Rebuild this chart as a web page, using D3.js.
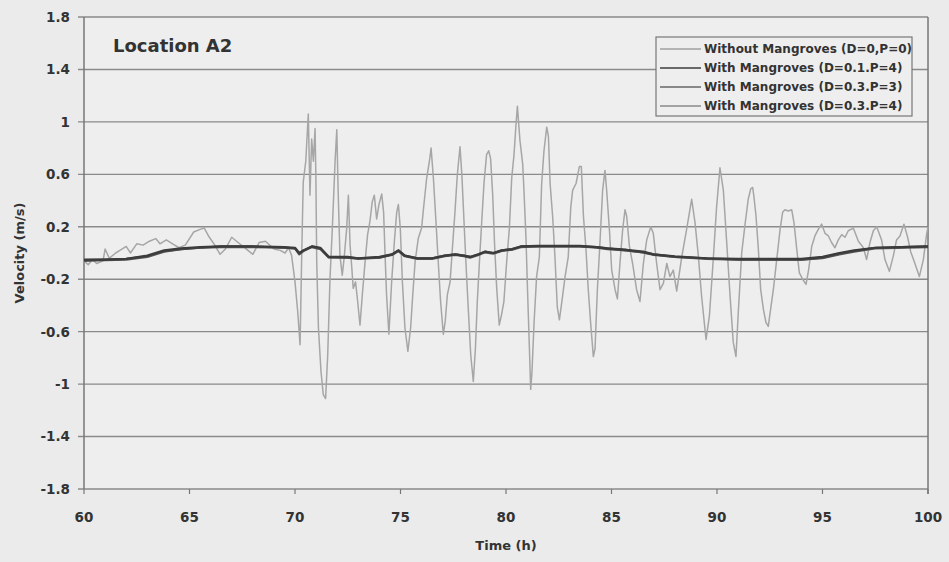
<!DOCTYPE html>
<html>
<head>
<meta charset="utf-8">
<script src="https://cdn.jsdelivr.net/npm/d3@7/dist/d3.min.js"></script>
<style>
  html, body { margin: 0; padding: 0; background: #ebebeb; }
  svg { display: block; }
  .tick-label, .axis-title { font-family: "DejaVu Sans", sans-serif; font-weight: bold; fill: #333; }
  .legend-text { font-family: "DejaVu Sans", sans-serif; font-weight: bold; font-size: 12px; fill: #333; }
</style>
</head>
<body>
<div id="chart"></div>
<script>
// --- data ---
const xTicks = [60, 65, 70, 75, 80, 85, 90, 95, 100];
const yTicks = [1.8, 1.4, 1, 0.6, 0.2, -0.2, -0.6, -1, -1.4, -1.8];

const seriesNames = [
  'Without Mangroves (D=0,P=0)',
  'With Mangroves (D=0.1.P=4)',
  'With Mangroves (D=0.3.P=3)',
  'With Mangroves (D=0.3.P=4)'
];

// without mangroves: time (h) and velocity (m/s)
const timeA = [
  60.0, 60.2, 60.4, 60.6, 60.9, 61.0, 61.2, 61.5, 61.7, 62.0,
  62.2, 62.5, 62.8, 63.1, 63.4, 63.6, 63.9, 64.2, 64.5, 64.8,
  65.2, 65.5, 65.7, 65.9, 66.2, 66.45, 66.7, 67.0, 67.3, 67.7,
  68.0, 68.3, 68.6, 69.0, 69.3, 69.53, 69.7, 69.84, 70.0, 70.13,
  70.24, 70.32, 70.39, 70.51, 70.63, 70.71, 70.79, 70.87, 70.95, 70.99,
  71.03, 71.11, 71.23, 71.34, 71.45, 71.55, 71.66, 71.77, 71.9, 71.98,
  72.05, 72.13, 72.24, 72.34, 72.45, 72.53, 72.61, 72.69, 72.76, 72.87,
  72.97, 73.08, 73.19, 73.32, 73.44, 73.55, 73.66, 73.76, 73.87, 73.98,
  74.11, 74.2, 74.27, 74.34, 74.45, 74.58, 74.71, 74.82, 74.9, 74.99,
  75.09, 75.21, 75.35, 75.48, 75.58, 75.69, 75.84, 76.0, 76.11, 76.24,
  76.37, 76.45, 76.56, 76.68, 76.79, 76.9, 77.03, 77.12, 77.22, 77.35,
  77.47, 77.58, 77.69, 77.82, 77.91, 78.01, 78.1, 78.21, 78.33, 78.45,
  78.55, 78.64, 78.74, 78.85, 78.96, 79.08, 79.18, 79.27, 79.37, 79.46,
  79.56, 79.68, 79.79, 79.9, 80.03, 80.16, 80.27, 80.38, 80.47, 80.54,
  80.66, 80.79, 80.85, 80.95, 81.01, 81.11, 81.17, 81.23, 81.33, 81.45,
  81.58, 81.69, 81.8, 81.93, 82.01, 82.09, 82.21, 82.32, 82.43, 82.53,
  82.64, 82.8, 82.95, 83.07, 83.16, 83.32, 83.48, 83.57, 83.67, 83.79,
  83.9, 84.01, 84.14, 84.22, 84.33, 84.46, 84.58, 84.69, 84.77, 84.9,
  85.01, 85.17, 85.28, 85.4, 85.53, 85.64, 85.72, 85.85, 86.0, 86.19,
  86.35, 86.51, 86.67, 86.86, 86.98, 87.14, 87.3, 87.46, 87.62, 87.77,
  87.93, 88.09, 88.33, 88.56, 88.8, 88.96, 89.12, 89.27, 89.48, 89.64,
  89.83, 89.98, 90.14, 90.3, 90.46, 90.62, 90.77, 90.9, 91.01, 91.17,
  91.33, 91.48, 91.6, 91.69, 91.75, 91.85, 91.96, 92.07, 92.2, 92.32,
  92.43, 92.54, 92.67, 92.83, 92.99, 93.11, 93.22, 93.38, 93.54, 93.65,
  93.78, 93.9, 94.06, 94.22, 94.34, 94.49, 94.64, 94.8, 94.96, 95.12,
  95.28, 95.43, 95.59, 95.75, 95.91, 96.07, 96.22, 96.46, 96.7, 96.94,
  97.09, 97.25, 97.41, 97.57, 97.8, 97.96, 98.17, 98.36, 98.51, 98.67,
  98.86, 99.02, 99.18, 99.38, 99.59, 99.78, 99.94, 100.0
];
const velA = [
  -0.06, -0.09, -0.05, -0.08, -0.06, 0.03, -0.04, 0.0, 0.02, 0.05,
  0.0, 0.07, 0.06, 0.09, 0.11, 0.07, 0.10, 0.07, 0.04, 0.06,
  0.16, 0.18, 0.19, 0.13, 0.06, -0.01, 0.03, 0.12, 0.08, 0.03,
  -0.01, 0.08, 0.09, 0.03, 0.02, 0.0, 0.04, -0.02, -0.22, -0.45,
  -0.70, 0.0, 0.54, 0.70, 1.06, 0.44, 0.87, 0.70, 0.95, 0.57,
  -0.07, -0.57, -0.90, -1.08, -1.11, -0.78, -0.19, 0.19, 0.70, 0.94,
  0.44, -0.02, -0.17, -0.02, 0.19, 0.44, 0.06, -0.11, -0.27, -0.22,
  -0.37, -0.55, -0.32, -0.07, 0.14, 0.24, 0.39, 0.44, 0.26, 0.37,
  0.45, 0.31, -0.02, -0.32, -0.62, -0.22, 0.09, 0.31, 0.37, 0.19,
  -0.22, -0.57, -0.75, -0.57, -0.32, -0.07, 0.11, 0.19, 0.37, 0.57,
  0.70, 0.80, 0.57, 0.24, -0.07, -0.37, -0.62, -0.52, -0.32, -0.22,
  0.06, 0.31, 0.59, 0.81, 0.59, 0.24, -0.07, -0.42, -0.78, -0.98,
  -0.73, -0.37, -0.07, 0.24, 0.54, 0.75, 0.78, 0.72, 0.44, 0.06,
  -0.27, -0.55, -0.47, -0.37, -0.07, 0.19, 0.57, 0.75, 0.97, 1.12,
  0.86, 0.68, 0.48, 0.10, -0.23, -0.73, -1.04, -0.91, -0.53, -0.18,
  -0.03, 0.53, 0.78, 0.96, 0.89, 0.53, 0.28, -0.03, -0.41, -0.51,
  -0.38, -0.18, -0.03, 0.35, 0.48, 0.53, 0.66, 0.66, 0.28, 0.03,
  -0.28, -0.53, -0.79, -0.73, -0.28, 0.10, 0.48, 0.63, 0.48, 0.18,
  -0.13, -0.28, -0.35, -0.08, 0.18, 0.33, 0.28, 0.05, -0.08, -0.28,
  -0.37, -0.08, 0.10, 0.20, 0.15, -0.08, -0.28, -0.23, -0.08, -0.18,
  -0.13, -0.29, -0.03, 0.18, 0.41, 0.23, -0.03, -0.33, -0.66, -0.48,
  -0.03, 0.35, 0.65, 0.48, 0.08, -0.33, -0.68, -0.79, -0.45, 0.0,
  0.22, 0.41, 0.49, 0.50, 0.43, 0.28, 0.03, -0.28, -0.43, -0.53,
  -0.56, -0.43, -0.28, -0.05, 0.18, 0.31, 0.33, 0.32, 0.33, 0.23,
  0.03, -0.15, -0.20, -0.24, -0.13, 0.05, 0.13, 0.18, 0.22, 0.15,
  0.13, 0.08, 0.04, 0.10, 0.14, 0.12, 0.17, 0.19, 0.09, 0.04,
  -0.05, 0.08, 0.17, 0.20, 0.10, -0.05, -0.14, -0.02, 0.10, 0.13,
  0.22, 0.13, 0.01, -0.08, -0.18, -0.05, 0.15, 0.20
];

// with mangroves: shared time axis, three runs
const timeM = [
  60, 61, 62, 63, 63.8, 64.6, 65.5, 66.5, 68, 69.5,
  70.0, 70.2, 70.4, 70.8, 71.2, 71.6, 72.5, 73.0, 74.0, 74.6,
  74.9, 75.2, 75.8, 76.5, 77.1, 77.6, 78.0, 78.3, 78.7, 79.0,
  79.4, 79.8, 80.3, 80.7, 81.5, 83.5, 84.3, 84.8, 85.7, 86.5,
  87.0, 88.0, 89.5, 91.0, 94.0, 95.0, 95.8, 96.5, 97.5, 100
];
const velB = [
  -0.05, -0.05, -0.045, -0.02, 0.02, 0.035, 0.045, 0.05, 0.05, 0.045,
  0.04, 0.0, 0.02, 0.05, 0.04, -0.03, -0.03, -0.04, -0.03, -0.01,
  0.02, -0.02, -0.04, -0.04, -0.02, -0.01, -0.02, -0.03, -0.01, 0.01,
  0.0, 0.02, 0.03, 0.05, 0.055, 0.055, 0.045, 0.035, 0.025, 0.01,
  -0.01, -0.025, -0.04, -0.045, -0.045, -0.03, 0.0, 0.02, 0.04, 0.05
];
const velC = [
  -0.06, -0.055, -0.05, -0.03, 0.01, 0.03, 0.04, 0.045, 0.045, 0.04,
  0.035, -0.01, 0.015, 0.045, 0.03, -0.035, -0.035, -0.045, -0.035, -0.015,
  0.015, -0.025, -0.045, -0.045, -0.025, -0.015, -0.025, -0.035, -0.015, 0.005,
  -0.005, 0.015, 0.025, 0.045, 0.05, 0.05, 0.04, 0.03, 0.02, 0.005,
  -0.015, -0.03, -0.045, -0.05, -0.05, -0.04, -0.01, 0.01, 0.035, 0.045
];
const velD = [
  -0.055, -0.05, -0.045, -0.025, 0.015, 0.03, 0.04, 0.05, 0.05, 0.04,
  0.035, -0.005, 0.02, 0.05, 0.035, -0.03, -0.035, -0.04, -0.035, -0.01,
  0.02, -0.02, -0.04, -0.04, -0.02, -0.01, -0.02, -0.03, -0.01, 0.01,
  0.0, 0.02, 0.03, 0.05, 0.05, 0.05, 0.045, 0.035, 0.02, 0.005,
  -0.01, -0.03, -0.04, -0.05, -0.05, -0.035, -0.005, 0.015, 0.04, 0.05
];

// --- chart ---
const width = 949, height = 562;
const margin = { top: 17, right: 21, bottom: 73, left: 84 };
const w = width - margin.left - margin.right;
const h = height - margin.top - margin.bottom;

const svg = d3.select('#chart').append('svg')
  .attr('width', width).attr('height', height);

svg.append('rect').attr('width', width).attr('height', height).attr('fill', '#ebebeb');

const g = svg.append('g').attr('transform', `translate(${margin.left},${margin.top})`);

const x = d3.scaleLinear().domain([60, 100]).range([0, w]);
const y = d3.scaleLinear().domain([-1.8, 1.8]).range([h, 0]);

g.append('rect').attr('width', w).attr('height', h).attr('fill', '#eeeeee');

// horizontal gridlines (the outer ones double as frame)
g.selectAll('line.grid')
  .data(yTicks)
  .join('line')
  .attr('class', 'grid')
  .attr('x1', -6).attr('x2', w)
  .attr('y1', d => y(d)).attr('y2', d => y(d))
  .attr('stroke', '#8a8a8a')
  .attr('stroke-width', 1.4);

// y axis labels
g.selectAll('text.ylab')
  .data(yTicks)
  .join('text')
  .attr('class', 'tick-label ylab')
  .attr('x', -14)
  .attr('y', d => y(d))
  .attr('dy', '0.36em')
  .attr('text-anchor', 'end')
  .attr('font-size', 13.5)
  .text(d => String(d));

// x axis ticks and labels
g.selectAll('line.xtick')
  .data(xTicks)
  .join('line')
  .attr('class', 'xtick')
  .attr('x1', d => x(d)).attr('x2', d => x(d))
  .attr('y1', h).attr('y2', h + 5)
  .attr('stroke', '#777').attr('stroke-width', 1.2);

g.selectAll('text.xlab')
  .data(xTicks)
  .join('text')
  .attr('class', 'tick-label xlab')
  .attr('x', d => x(d))
  .attr('y', h + 33)
  .attr('text-anchor', 'middle')
  .attr('font-size', 13.5)
  .text(d => d);

// plot frame sides
g.append('line').attr('x1', 0).attr('x2', 0).attr('y1', 0).attr('y2', h)
  .attr('stroke', '#777').attr('stroke-width', 1.5);
g.append('line').attr('x1', w).attr('x2', w).attr('y1', 0).attr('y2', h + 5)
  .attr('stroke', '#777').attr('stroke-width', 1.5);

// axis titles
svg.append('text')
  .attr('class', 'axis-title')
  .attr('x', margin.left + w / 2)
  .attr('y', 550)
  .attr('text-anchor', 'middle')
  .attr('font-size', 13)
  .text('Time (h)');

svg.append('text')
  .attr('class', 'axis-title')
  .attr('transform', `translate(24,${margin.top + h / 2}) rotate(-90)`)
  .attr('text-anchor', 'middle')
  .attr('font-size', 13)
  .text('Velocity (m/s)');

// series
const line = d3.line().x(d => x(d[0])).y(d => y(d[1]));
const series = [
  { name: seriesNames[0], pts: d3.zip(timeA, velA), color: '#a6a6a6', width: 1.5 },
  { name: seriesNames[1], pts: d3.zip(timeM, velC), color: '#5a5a5a', width: 2.2 },
  { name: seriesNames[2], pts: d3.zip(timeM, velD), color: '#4a4a4a', width: 2.2 },
  { name: seriesNames[3], pts: d3.zip(timeM, velB), color: '#3c3c3c', width: 2.2 }
];

series.forEach(s => {
  g.append('path')
    .datum(s.pts)
    .attr('fill', 'none')
    .attr('stroke', s.color)
    .attr('stroke-width', s.width)
    .attr('stroke-linejoin', 'round')
    .attr('d', line);
});

// title inside plot
g.append('text')
  .attr('class', 'axis-title')
  .attr('x', 29)
  .attr('y', 35)
  .attr('font-size', 18)
  .text('Location A2');

// legend
const legendColors = ['#a0a0a0', '#3c3c3c', '#666666', '#8a8a8a'];
const lg = svg.append('g').attr('transform', 'translate(656,37)');
lg.append('rect')
  .attr('width', 256).attr('height', 79)
  .attr('fill', '#eeeeee')
  .attr('stroke', '#777').attr('stroke-width', 1.2);

const rows = lg.selectAll('g.row')
  .data(seriesNames)
  .join('g')
  .attr('class', 'row')
  .attr('transform', (d, i) => `translate(0,${12 + i * 19})`);

rows.append('line')
  .attr('x1', 4).attr('x2', 45)
  .attr('y1', 0).attr('y2', 0)
  .attr('stroke', (d, i) => legendColors[i])
  .attr('stroke-width', 1.3);

rows.append('text')
  .attr('class', 'legend-text')
  .attr('x', 48)
  .attr('dy', '0.36em')
  .text(d => d);
</script>
</body>
</html>
